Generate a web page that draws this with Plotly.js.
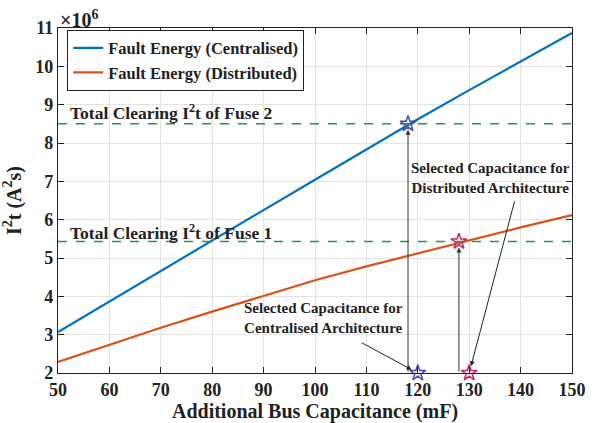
<!DOCTYPE html>
<html><head><meta charset="utf-8">
<script src="https://cdn.plot.ly/plotly-3.0.1.min.js"></script>
<style>body{margin:0;background:#fff}#chart{width:603px;height:423px}</style>
</head><body><div id="chart"></div>
<script>
const capacitance = [50, 60, 70, 80, 90, 100, 110, 120, 130, 140, 150];
const centralised = [3.07e6, 3.87e6, 4.66e6, 5.45e6, 6.25e6, 7.04e6, 7.84e6, 8.62e6, 9.38e6, 10.13e6, 10.87e6];
const distributed = [2.29e6, 2.74e6, 3.18e6, 3.60e6, 4.02e6, 4.42e6, 4.78e6, 5.12e6, 5.48e6, 5.80e6, 6.12e6];
const fuseLimits = [8.5e6, 5.43e6];
const fuseLabels = ['Total Clearing I<sup>2</sup>t of Fuse 2', 'Total Clearing I<sup>2</sup>t of Fuse 1'];
const crossX = [118.1, 128.0];
const selectedX = [120, 130];
const yBase = 2e6;
const xTicks = [50, 60, 70, 80, 90, 100, 110, 120, 130, 140, 150];
const yTicks = [2e6, 3e6, 4e6, 5e6, 6e6, 7e6, 8e6, 9e6, 10e6, 11e6];
const yTickText = ['2', '3', '4', '5', '6', '7', '8', '9', '10', '11'];

const font = 'Liberation Serif';
const green = '#2f8f4e';
const starColors = ['#4b4bb0', '#c8256e'];

const traces = [
  {x: capacitance, y: centralised, mode: 'lines', name: '<b>Fault Energy (Centralised)</b>', line: {color: '#0072BD', width: 2.2}},
  {x: capacitance, y: distributed, mode: 'lines', name: '<b>Fault Energy (Distributed)</b>', line: {color: '#D95319', width: 2.2}},
  {x: [xTicks[0], xTicks[xTicks.length-1]], y: [fuseLimits[0], fuseLimits[0]], mode: 'lines', showlegend: false, line: {color: green, width: 1.5, dash: 'dash'}},
  {x: [xTicks[0], xTicks[xTicks.length-1]], y: [fuseLimits[1], fuseLimits[1]], mode: 'lines', showlegend: false, line: {color: green, width: 1.5, dash: 'dash'}},
  {x: [crossX[0], selectedX[0]], y: [fuseLimits[0], yBase], mode: 'markers', showlegend: false, cliponaxis: false,
   marker: {symbol: 'star-open', size: 12, color: starColors[0], line: {width: 1.5}}},
  {x: [crossX[1], selectedX[1]], y: [fuseLimits[1], yBase], mode: 'markers', showlegend: false, cliponaxis: false,
   marker: {symbol: 'star-open', size: 12, color: starColors[1], line: {width: 1.5}}}
];

const annotations = [
  {xref: 'paper', yref: 'paper', x: 0.0, y: 1.0, xanchor: 'left', yanchor: 'bottom', showarrow: false,
   text: '<b>×10<sup>6</sup></b>', font: {family: font, size: 20, color: '#222'}, yshift: -5},
  {x: 51.9, y: 8.81e6, xanchor: 'left', yanchor: 'middle', showarrow: false, text: '<b>' + fuseLabels[0] + '</b>', font: {family: font, size: 17.5, color: '#222'}},
  {x: 51.9, y: 5.68e6, xanchor: 'left', yanchor: 'middle', showarrow: false, text: '<b>' + fuseLabels[1] + '</b>', font: {family: font, size: 17.5, color: '#222'}},
  {x: crossX[0], y: fuseLimits[0], ax: crossX[0], ay: yBase, axref: 'x', ayref: 'y', text: '', showarrow: true,
   arrowhead: 2, arrowsize: 1, arrowwidth: 1, arrowcolor: '#333', standoff: 6},
  {x: crossX[1], y: fuseLimits[1], ax: crossX[1], ay: yBase, axref: 'x', ayref: 'y', text: '', showarrow: true,
   arrowhead: 2, arrowsize: 1, arrowwidth: 1, arrowcolor: '#333', standoff: 6},
  {x: 134.2, y: 7.09e6, showarrow: false, text: '<b>Selected Capacitance for<br>Distributed Architecture</b>', font: {family: font, size: 15, color: '#222'}},
  {x: 101.6, y: 3.44e6, showarrow: false, text: '<b>Selected Capacitance for<br>Centralised Architecture</b>', font: {family: font, size: 15, color: '#222'}},
  {x: selectedX[1], y: yBase, ax: 138.9, ay: 6.52e6, axref: 'x', ayref: 'y', text: '', showarrow: true,
   arrowhead: 2, arrowsize: 1, arrowwidth: 1, arrowcolor: '#222', standoff: 7},
  {x: selectedX[0], y: yBase, ax: 108.8, ay: 2.81e6, axref: 'x', ayref: 'y', text: '', showarrow: true,
   arrowhead: 2, arrowsize: 1, arrowwidth: 1, arrowcolor: '#222', standoff: 7}
];

const layout = {
  width: 603, height: 423,
  margin: {l: 58, r: 31, t: 28, b: 50},
  paper_bgcolor: '#fff', plot_bgcolor: '#fff',
  font: {family: font, color: '#222'},
  showlegend: true,
  legend: {x: 0.018, y: 0.995, xanchor: 'left', yanchor: 'top', bgcolor: '#fff', bordercolor: '#222', borderwidth: 1,
    font: {family: font, size: 16.5, color: '#222'}, tracegroupgap: 0, itemwidth: 30},
  xaxis: {range: [50, 150], tickvals: xTicks, ticktext: xTicks.map(t => '<b>' + t + '</b>'), ticks: 'inside', ticklen: 6, tickcolor: '#222',
    showline: true, linecolor: '#222', linewidth: 1.2, mirror: 'ticks', showgrid: true, gridcolor: '#e3e3e3', zeroline: false,
    tickfont: {family: font, size: 18, color: '#222'},
    title: {text: '<b>Additional Bus Capacitance (mF)</b>', font: {family: font, size: 20, color: '#222'}, standoff: 4}},
  yaxis: {range: [2e6, 11e6], tickvals: yTicks, ticktext: yTickText.map(t => '<b>' + t + '</b>'), ticks: 'inside', ticklen: 6, tickcolor: '#222',
    showline: true, linecolor: '#222', linewidth: 1.2, mirror: 'ticks', showgrid: true, gridcolor: '#e3e3e3', zeroline: false,
    tickfont: {family: font, size: 18, color: '#222'},
    title: {text: '<b>I<sup>2</sup>t (A<sup>2</sup>s)</b>', font: {family: font, size: 20, color: '#222'}, standoff: 8}},
  annotations: annotations
};

Plotly.newPlot('chart', traces, layout, {displayModeBar: false, staticPlot: true});
</script></body></html>
